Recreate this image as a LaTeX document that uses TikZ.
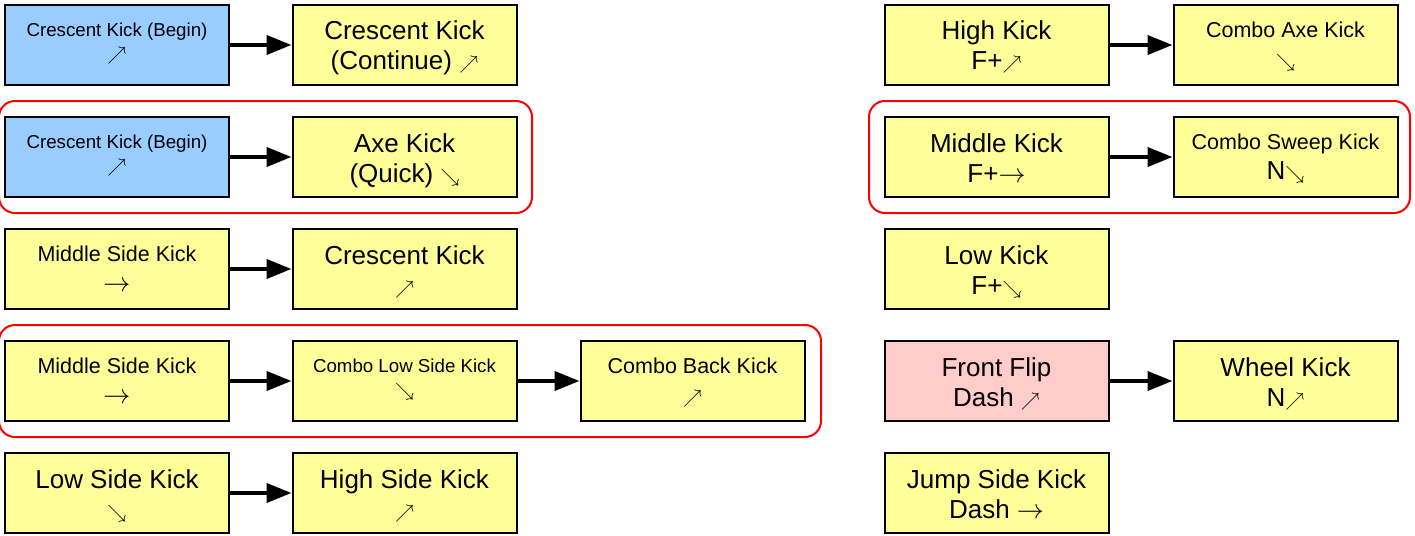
\RequirePackage{fix-cm}
\documentclass[tikz,border=0pt]{standalone}
\usepackage{fontspec}
\setmainfont{Liberation Sans}
\usetikzlibrary{arrows.meta}
\definecolor{boxyellow}{HTML}{FFFF99}
\definecolor{boxblue}{HTML}{99CCFF}
\definecolor{boxpink}{HTML}{FFCCCC}
\definecolor{groupred}{HTML}{FF0000}
% joystick direction glyphs
\newcommand\dirNE{{\fontsize{19}{19}\selectfont$\nearrow$}}
\newcommand\dirSE{{\fontsize{19}{19}\selectfont$\searrow$}}
\newcommand\dirE{{\fontsize{27}{27}\selectfont$\rightarrow$}}
% two-line move label with fixed struts, so the lines sit at the same height in every box
\newcommand\lineH{20pt}
\newcommand\lineD{6pt}
\newcommand\mv[2]{\rule{0pt}{\lineH}#1\\#2\rule[-\lineD]{0pt}{\lineD}}
\tikzset{
  move/.style={draw=black, line width=2pt, fill=boxyellow, minimum width=224pt,
    minimum height=80pt, inner sep=0pt, align=center, text=black},
  big/.style={font=\fontsize{26}{30}\selectfont\def\lineH{26pt}\def\lineD{6pt}},
  mid/.style={font=\fontsize{21.5}{30}\selectfont\def\lineH{20pt}\def\lineD{6pt}},
  small/.style={font=\fontsize{18.7}{24.5}\selectfont\def\lineH{17pt}\def\lineD{10.5pt}},
  starter/.style={fill=boxblue},
  dashmove/.style={fill=boxpink},
  link/.style={line width=4pt, -{Triangle[length=25pt,width=19pt]}},
  group/.style={draw=groupred, line width=2pt, rounded corners=16pt}
}
\begin{document}
\begin{tikzpicture}[x=1pt, y=-1pt]
\useasboundingbox (0,0) rectangle (1415,535);
% combo groups
\draw[group] (-1,101) rectangle (532,213);
\draw[group] (-1,325) rectangle (821,437);
\draw[group] (869,101) rectangle (1410,213);
% left side
\node[move, starter, small] (a1) at (117,45) {\mv{Crescent Kick (Begin)}{\dirNE}};
\node[move, big] (a2) at (404.5,45) {\mv{Crescent Kick}{(Continue) \dirNE}};
\node[move, starter, small] (b1) at (117,157) {\mv{Crescent Kick (Begin)}{\dirNE}};
\node[move, big] (b2) at (404.5,157) {\mv{Axe Kick}{(Quick) \dirSE}};
\node[move, mid] (c1) at (117,269) {\mv{Middle Side Kick}{\dirE}};
\node[move, big] (c2) at (404.5,269) {\mv{Crescent Kick}{\dirNE}};
\node[move, mid] (d1) at (117,381) {\mv{Middle Side Kick}{\dirE}};
\node[move, small] (d2) at (404.5,381) {\mv{Combo Low Side Kick}{\dirSE}};
\node[move, mid] (d3) at (692.5,381) {\mv{Combo Back Kick}{\dirNE}};
\node[move, big] (e1) at (117,493) {\mv{Low Side Kick}{\dirSE}};
\node[move, big] (e2) at (404.5,493) {\mv{High Side Kick}{\dirNE}};
% right side
\node[move, big] (f1) at (996.5,45) {\mv{High Kick}{F+\dirNE}};
\node[move, mid] (f2) at (1285.5,45) {\mv{Combo Axe Kick}{\dirSE}};
\node[move, big] (g1) at (996.5,157) {\mv{Middle Kick}{F+\dirE}};
\node[move, mid] (g2) at (1285.5,157) {\mv{Combo Sweep Kick}{{\fontsize{26}{26}\selectfont N}\dirSE}};
\node[move, big] (h1) at (996.5,269) {\mv{Low Kick}{F+\dirSE}};
\node[move, dashmove, big] (i1) at (996.5,381) {\mv{Front Flip}{Dash \dirNE}};
\node[move, big] (i2) at (1285.5,381) {\mv{Wheel Kick}{N\dirNE}};
\node[move, big] (j1) at (996.5,493) {\mv{Jump Side Kick}{Dash \dirE}};
% follow-ups
\draw[link] (a1) -- (a2);
\draw[link] (b1) -- (b2);
\draw[link] (c1) -- (c2);
\draw[link] (d1) -- (d2);
\draw[link] (d2) -- (d3);
\draw[link] (e1) -- (e2);
\draw[link] (f1) -- (f2);
\draw[link] (g1) -- (g2);
\draw[link] (i1) -- (i2);
\end{tikzpicture}
\end{document}
